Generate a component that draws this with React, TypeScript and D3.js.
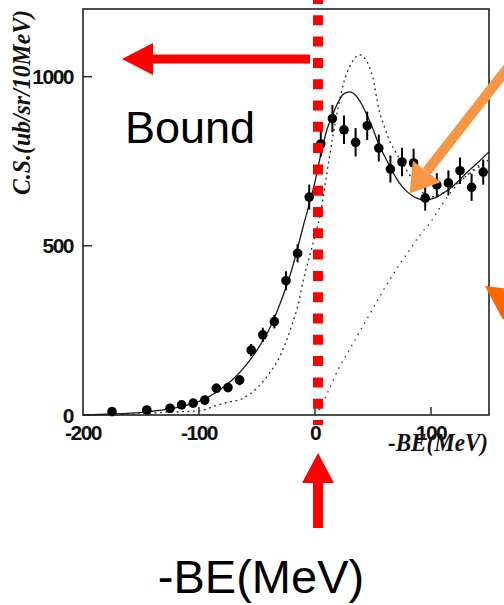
import React from 'react';
import * as d3 from 'd3';

// Measured spectrum: missing-energy bins (MeV) and cross sections (ub/sr/10MeV)
const energies = [-175, -145, -125, -115, -105, -95, -85, -75, -65, -55, -45, -35, -25, -15, -5, 5, 15, 25, 35, 45, 55, 65, 75, 85, 95, 105, 115, 125, 135, 145];
const crossSections = [10, 15, 20, 30, 35, 44, 79, 81, 103, 192, 237, 276, 397, 478, 644, 801, 876, 843, 806, 855, 789, 727, 748, 745, 641, 680, 686, 722, 673, 718];
const errors = [8, 8, 8, 8, 8, 10, 14, 12, 15, 18, 21, 20, 28, 27, 37, 38, 40, 42, 42, 42, 40, 40, 42, 42, 37, 35, 37, 39, 40, 37];

// Full calculation (solid)
const fitX = [-200, -175, -150, -125, -100, -90, -80, -70, -60, -50, -40, -30, -20, -10, 0, 5, 10, 15, 20, 25, 30, 35, 40, 45, 50, 55, 60, 65, 70, 75, 80, 85, 90, 95, 100, 105, 110, 115, 120, 125, 130, 140, 150];
const fitY = [0, 3, 8, 18, 40, 57, 80, 108, 145, 192, 250, 330, 430, 560, 690, 770, 840, 885, 925, 950, 955, 945, 920, 885, 845, 800, 765, 732, 700, 676, 658, 646, 638, 635, 638, 644, 655, 666, 680, 696, 714, 745, 778];

// Alternative calculation with the larger peak (dotted)
const altX = [-200, -150, -130, -100, -85, -75, -65, -50, -40, -30, -20, -15, -10, -5, 0, 5, 10, 15, 20, 25, 30, 35, 38, 42, 47, 50, 55, 60, 65, 70, 75, 80, 85, 90, 95, 100, 110, 120, 130, 140, 150];
const altY = [0, 3, 8, 12, 28, 38, 45, 80, 120, 175, 265, 320, 400, 465, 530, 600, 710, 815, 910, 985, 1030, 1058, 1065, 1058, 1028, 995, 905, 850, 805, 775, 745, 718, 693, 668, 652, 645, 655, 678, 705, 730, 755];

// Quasi-free contribution (sparse dotted)
const qfX = [0, 5, 10, 20, 30, 40, 50, 60, 70, 80, 90, 100, 110, 120, 130, 140, 150];
const qfY = [0, 25, 60, 135, 195, 255, 315, 375, 430, 480, 530, 572, 625, 670, 705, 735, 760];

const xTicks = [-200, -100, 0, 100];
const yTicks = [0, 500, 1000];

const W = 504;
const H = 605;
const plot = { left: 83, right: 489, top: 9, bottom: 415 };

export default function App() {
  const x = d3.scaleLinear().domain([-200, 150]).range([plot.left, plot.right]);
  const y = d3.scaleLinear().domain([0, 1200]).range([plot.bottom, plot.top]);

  const makeLine = (xs: number[], ys: number[]) =>
    d3.line<number>()
      .x((_, i) => x(xs[i]))
      .y((_, i) => y(ys[i]))
      .curve(d3.curveMonotoneX)(ys) || '';

  const tickFont = {
    fontFamily: '"Liberation Sans", Arial, sans-serif',
    fontWeight: 700,
    fontSize: 21,
    letterSpacing: -1.5,
  } as const;

  const red = '#ff0000';
  const orange = '#f79646';

  // orange pointer into the dip
  const oTip: [number, number] = [409.5, 193.5];
  const oDir = [0.616, -0.788];
  const oBase = [oTip[0] + oDir[0] * 28, oTip[1] + oDir[1] * 28];
  const oPerp = [oDir[1], -oDir[0]];
  const headHalf = 17.5;
  const shaftEnd = [oBase[0] + oDir[0] * 160, oBase[1] + oDir[1] * 160];

  return (
    <svg
      width={W}
      height={H}
      viewBox={`0 0 ${W} ${H}`}
      style={{ position: 'absolute', left: 0, top: 0, background: '#fff' }}
    >
      <rect width={W} height={H} fill="#fff" />

      {/* frame */}
      <rect
        x={plot.left}
        y={plot.top}
        width={plot.right - plot.left}
        height={plot.bottom - plot.top}
        fill="none"
        stroke="#222"
        strokeWidth={1.6}
      />

      {/* inward ticks */}
      {yTicks.filter((t) => t > 0).map((t) => (
        <line key={`yt${t}`} x1={plot.left} x2={plot.left + 9} y1={y(t)} y2={y(t)} stroke="#222" strokeWidth={1.4} />
      ))}
      {xTicks.filter((t) => t > -200).map((t) => (
        <line key={`xt${t}`} x1={x(t)} x2={x(t)} y1={plot.bottom} y2={plot.bottom - 8} stroke="#222" strokeWidth={1.4} />
      ))}

      {/* tick labels */}
      {yTicks.map((t) => (
        <text key={`yl${t}`} x={73} y={y(t) + 7.5} textAnchor="end" fill="#111" {...tickFont}>
          {t}
        </text>
      ))}
      {xTicks.map((t) => (
        <text key={`xl${t}`} x={x(t)} y={440} textAnchor="middle" fill="#111" {...tickFont}>
          {t}
        </text>
      ))}

      {/* axis titles */}
      <text
        transform="translate(30,102.5) rotate(-90)"
        textAnchor="middle"
        fontFamily='"Liberation Serif", "Times New Roman", serif'
        fontStyle="italic"
        fontWeight={700}
        fontSize={25}
        textLength={185}
        lengthAdjust="spacingAndGlyphs"
        fill="#111"
      >
        C.S.(ub/sr/10MeV)
      </text>
      <text
        x={488}
        y={451}
        textAnchor="end"
        fontFamily='"Liberation Serif", "Times New Roman", serif'
        fontStyle="italic"
        fontWeight={700}
        fontSize={26}
        textLength={100}
        lengthAdjust="spacingAndGlyphs"
        fill="#111"
      >
        -BE(MeV)
      </text>

      {/* calculations */}
      <path d={makeLine(qfX, qfY)} fill="none" stroke="#333" strokeWidth={1.3} strokeDasharray="1.5 5" />
      <path d={makeLine(altX, altY)} fill="none" stroke="#333" strokeWidth={1.3} strokeDasharray="2 3.5" />
      <path d={makeLine(fitX, fitY)} fill="none" stroke="#1a1a1a" strokeWidth={1.3} />

      {/* data with error bars */}
      {energies.map((e, i) => (
        <g key={`pt${e}`}>
          <line
            x1={x(e)}
            x2={x(e)}
            y1={y(crossSections[i] - errors[i])}
            y2={y(crossSections[i] + errors[i])}
            stroke="#000"
            strokeWidth={2}
          />
          <circle cx={x(e)} cy={y(crossSections[i])} r={4.8} fill="#000" />
        </g>
      ))}

      {/* threshold marker */}
      <line x1={318} x2={318} y1={-6} y2={425} stroke={red} strokeWidth={10} strokeDasharray="10 11.3" />

      {/* bound-region arrow */}
      <rect x={150} y={54.5} width={160} height={9} fill={red} />
      <polygon points="122,59 153,43 153,75" fill={red} />

      {/* arrow to the energy axis */}
      <rect x={313} y={482} width={10} height={46} fill={red} />
      <polygon points="318,453 302,483 334,483" fill={red} />

      {/* orange pointers */}
      <line
        x1={oBase[0]}
        y1={oBase[1]}
        x2={shaftEnd[0]}
        y2={shaftEnd[1]}
        stroke={orange}
        strokeWidth={10}
      />
      <polygon
        points={`${oTip[0]},${oTip[1]} ${oBase[0] + oPerp[0] * headHalf},${oBase[1] + oPerp[1] * headHalf} ${oBase[0] - oPerp[0] * headHalf},${oBase[1] - oPerp[1] * headHalf}`}
        fill={orange}
      />
      <polygon points="485,286 520,290 503,320" fill="#ff6600" />

      {/* annotations */}
      <text x={125} y={143} fontFamily='"Liberation Sans", Arial, sans-serif' fontSize={45} fill="#000">
        Bound
      </text>
      <text x={261} y={593} textAnchor="middle" fontFamily='"Liberation Sans", Arial, sans-serif' fontSize={47} fill="#000">
        -BE(MeV)
      </text>
    </svg>
  );
}
